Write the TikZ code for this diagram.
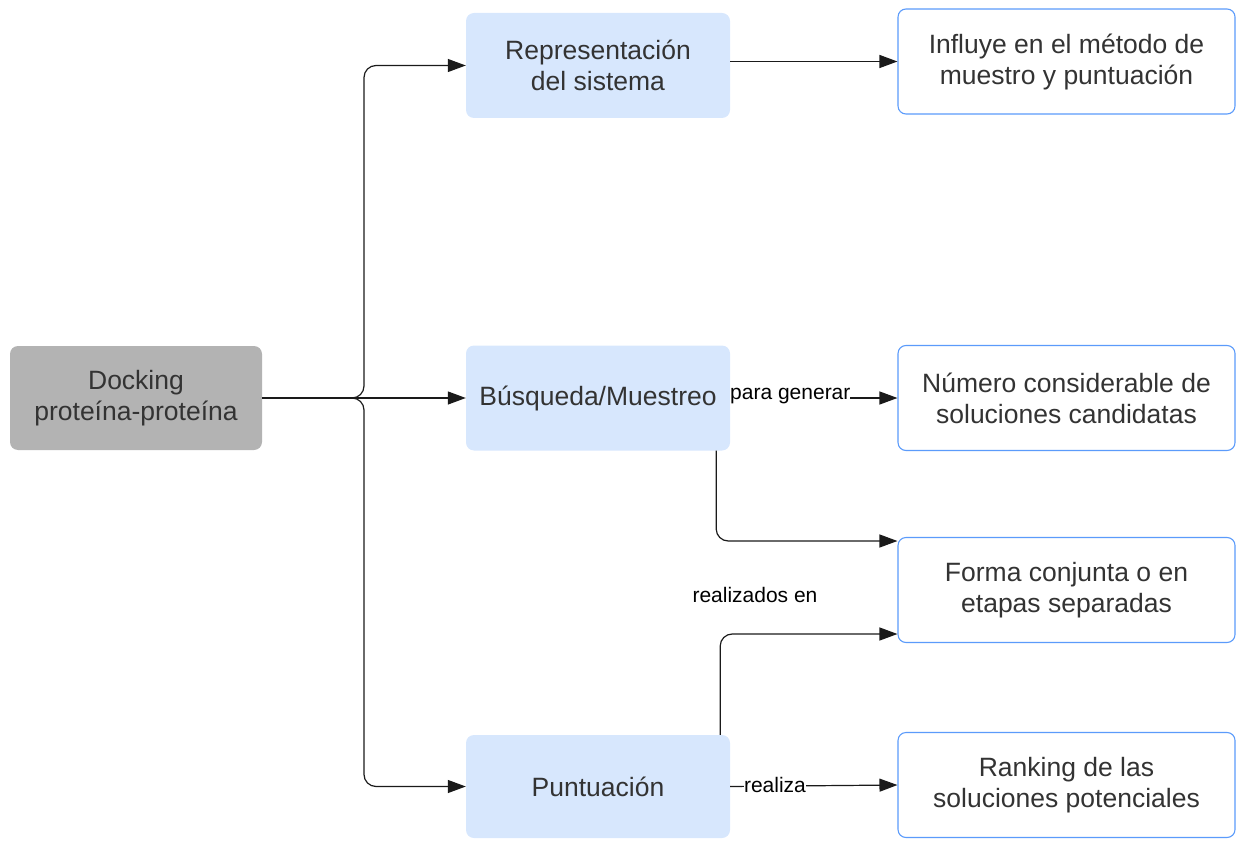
\documentclass[tikz,border=0pt]{standalone}
\usepackage{fontspec}
\setmainfont{Liberation Sans}
\usetikzlibrary{arrows.meta}
\definecolor{boxblue}{HTML}{D7E7FD}
\definecolor{boxgray}{HTML}{B3B3B3}
\definecolor{edgeblue}{HTML}{5B9BFB}
\definecolor{txt}{HTML}{333333}
\definecolor{wire}{HTML}{1A1A1A}

\begin{document}
\begin{tikzpicture}[x=1pt,y=-1pt,
  every node/.style={font=\fontsize{26.5}{31}\selectfont, text=txt, align=center, inner sep=0pt},
  graybox/.style={fill=boxgray, rounded corners=8pt, minimum width=252pt, minimum height=104pt},
  bluebox/.style={fill=boxblue, rounded corners=8pt, minimum width=264pt, minimum height=105pt},
  outbox/.style={draw=edgeblue, line width=1.1pt, fill=white, rounded corners=8pt, minimum width=337pt, minimum height=105pt},
  conn/.style={draw=wire, line width=1.2pt, -{Triangle[length=18pt,width=13pt]}},
  tag/.style={font=\fontsize{21}{25}\selectfont, text=black, fill=white, inner sep=0pt}]
\useasboundingbox (0,0) rectangle (1239,842);

% left root
\node[graybox] (dock) at (136,398) {Docking\\proteína-proteína};

% middle column
\node[bluebox] (repr) at (598,65.5) {Representación\\del sistema};
\node[bluebox] (bus) at (598,398) {Búsqueda/Muestreo};
\node[bluebox, minimum height=103pt] (punt) at (598,786.5) {Puntuación};

% right column
\node[outbox] (infl) at (1066.5,61.5) {Influye en el método de\\muestro y puntuación};
\node[outbox] (num) at (1066.5,398) {Número considerable de\\soluciones candidatas};
\node[outbox] (forma) at (1066.5,590) {Forma conjunta o en\\etapas separadas};
\node[outbox] (rank) at (1066.5,785) {Ranking de las\\soluciones potenciales};

% branches from the root
\draw[conn, rounded corners=12pt] (dock.east) -- (364,398) |- (repr.west);
\draw[conn] (dock.east) -- (bus.west);
\draw[conn, rounded corners=12pt] (dock.east) -- (364,398) |- (punt.west);

% links to the outcomes
\draw[conn] (repr.east |- infl.west) -- (infl.west);
\draw[conn] (bus.east) -- (num.west);
\node[tag, anchor=west] (lgen) at (730,396) {para generar};
\draw[conn, rounded corners=12pt] ([xshift=-14pt]bus.south east) |- ([yshift=49pt]forma.west);
\draw[conn, rounded corners=12pt] ([xshift=-10pt]punt.north east) |- ([yshift=-44pt]forma.west);
\node[tag, fill=none] (lrea) at (755,595) {realizados en};
\draw[conn] (punt.east) -- (rank.west);
\node[tag] (lrz) at (775,785) {realiza};
\end{tikzpicture}
\end{document}
